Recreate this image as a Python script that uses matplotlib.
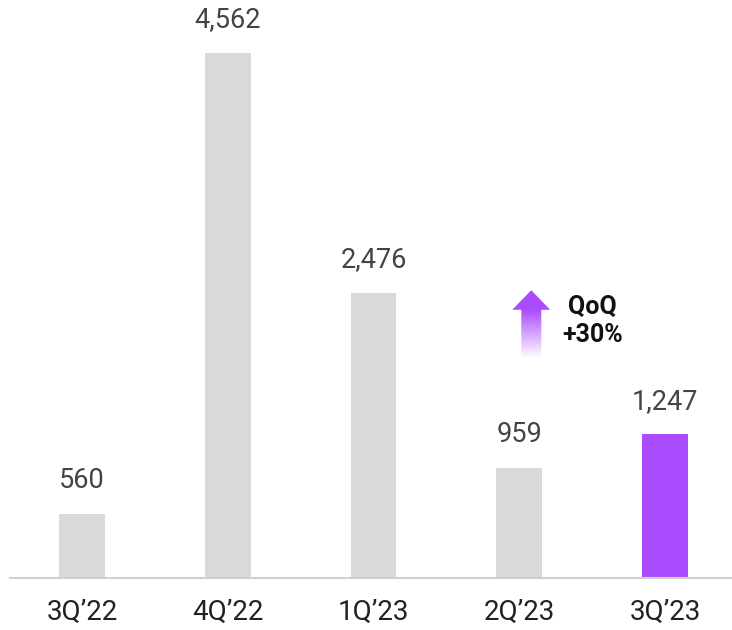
import numpy as np
import matplotlib.pyplot as plt
from matplotlib.patches import Polygon

plt.rcParams['font.family'] = ['Roboto', 'DejaVu Sans']

quarters = ["3Q\u201922", "4Q\u201922", "1Q\u201923", "2Q\u201923", "3Q\u201923"]
values = [560, 4562, 2476, 959, 1247]
value_labels = ["560", "4,562", "2,476", "959", "1,247"]
colors = ["#D9D9D9", "#D9D9D9", "#D9D9D9", "#D9D9D9", "#AA4BFF"]

fig = plt.figure(figsize=(7.32, 6.30), dpi=100)
ax = fig.add_axes([10 / 732, 52 / 630, 722 / 732, 575 / 630])

x = np.arange(len(quarters))
ax.bar(x, values, width=0.315, color=colors, zorder=2)

for xi, v, lab in zip(x, values, value_labels):
    ax.text(xi, v + 170, lab, ha='center', va='bottom', fontsize=19.5, color='#444444')

ax.set_xlim(-0.493, 4.459)
ax.set_ylim(0, 4995)
ax.set_xticks(x)
ax.set_xticklabels(quarters, fontsize=20, color='#222222')
ax.tick_params(axis='x', length=0, pad=15)
ax.set_yticks([])
for s in ['top', 'right', 'left']:
    ax.spines[s].set_visible(False)
ax.spines['bottom'].set_color('#D0D0D0')
ax.spines['bottom'].set_linewidth(1.5)

# gradient arrow (QoQ indicator)
ax_x0, ax_x1 = 2.952, 3.212
sh_x0, sh_x1 = 3.014, 3.151
y_top, y_head, y_bot = 2500, 2330, 1915
arrow = Polygon([(sh_x0, y_bot), (sh_x0, y_head), (ax_x0, y_head), ((ax_x0 + ax_x1) / 2, y_top),
                 (ax_x1, y_head), (sh_x1, y_head), (sh_x1, y_bot)],
                closed=True, facecolor='none', edgecolor='none')
ax.add_patch(arrow)
grad = np.linspace(1, 0, 256).reshape(-1, 1)
top_rgb = np.array([0xAA, 0x4B, 0xFF]) / 255
img = np.ones((256, 1, 4))
t = np.clip(grad * 1.4, 0, 1)
img[..., :3] = top_rgb * t[..., None] + (1 - t[..., None]) * np.array([1, 1, 1])
im = ax.imshow(img, extent=[ax_x0, ax_x1, y_bot, y_top], aspect='auto', zorder=3, origin='upper')
im.set_clip_path(arrow)

ax.text(3.50, 2235, "QoQ\n+30%", ha='center', va='center', fontsize=18, fontweight='bold',
        color='#111111', linespacing=1.2)

fig.savefig("out.png", dpi=100)
